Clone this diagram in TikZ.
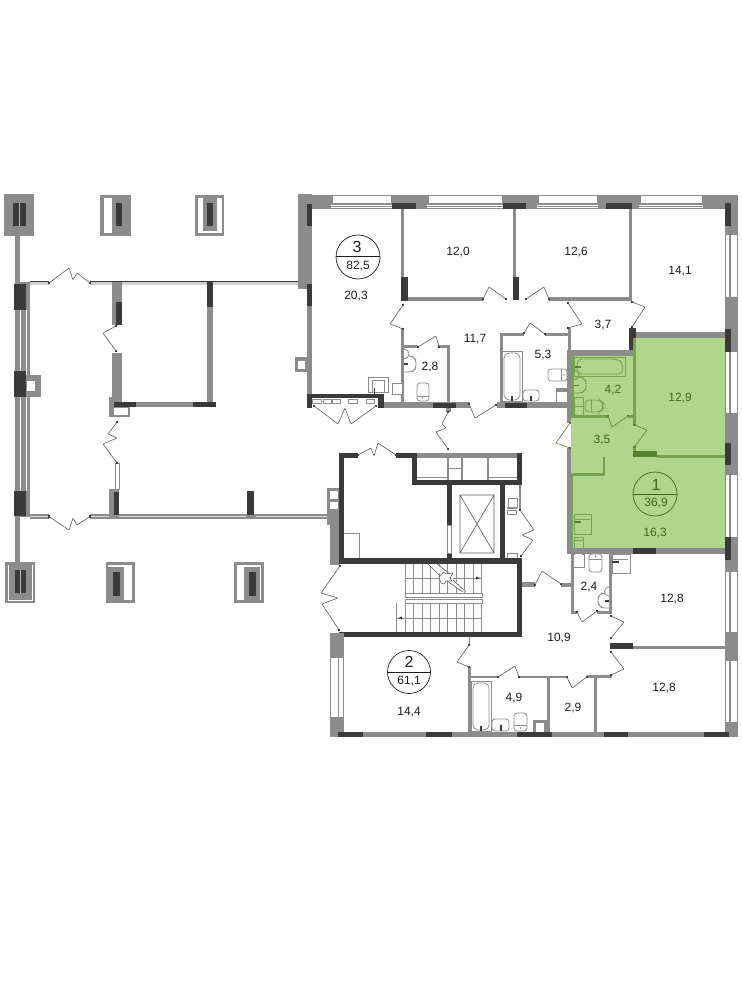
\documentclass[tikz,border=0pt]{standalone}
\usepackage{fontspec}
\setmainfont{Liberation Sans}
\definecolor{wallgray}{HTML}{8C8C8C}
\definecolor{piergray}{HTML}{3A3A3A}
\definecolor{doorgray}{HTML}{5A5A5A}
\definecolor{flat}{HTML}{AFD68B}
\definecolor{flatwall}{HTML}{76A44E}
\definecolor{flatpier}{HTML}{55822F}
\definecolor{flattext}{HTML}{3C6A12}
\definecolor{numtext}{HTML}{1C1C1C}
\tikzset{
	wl/.style={fill=wallgray},
	pr/.style={fill=piergray},
	door/.style={draw=doorgray,line width=0.6pt,rounded corners=0.8pt},
	hinge/.style={fill=piergray},
	fixt/.style={draw=wallgray,line width=0.8pt,fill=white},
	area/.style={font=\fontsize{12}{12}\selectfont,text=numtext,inner sep=0pt},
	flatno/.style={font=\fontsize{16}{16}\selectfont,text=numtext,inner sep=0pt},
	ring/.style={draw=numtext,line width=0.7pt}
}
\newcommand{\wl}[4]{\fill[wl] (#1,#2) rectangle (#3,#4);}
\newcommand{\pr}[4]{\fill[pr] (#1,#2) rectangle (#3,#4);}
\newcommand{\wh}[4]{\fill[white] (#1,#2) rectangle (#3,#4);}
\newcommand{\fx}[4]{\draw[fixt] (#1,#2) rectangle (#3,#4);}
\newcommand{\rfx}[4]{\draw[fixt,rounded corners=3pt] (#1,#2) rectangle (#3,#4);}
\newcommand{\vtub}[4]{\fx{#1}{#2}{#3}{#4}\draw[fixt,rounded corners=5pt] ({#1+2},{#4-1}) -- ({#1+2},{#2+2}) -- ({#3-2},{#2+2}) -- ({#3-2},{#4-1}) -- cycle;}
\begin{document}
\begin{tikzpicture}[x=1pt,y=-1pt]
	\useasboundingbox (0,0) rectangle (741,1000);
	% flat 1
	\fill[flat] (571,356) -- (636,356) -- (636,338) -- (725,338) -- (725,548) -- (571,548) -- cycle;

	% left block, columns above
	\wl{4}{194}{34}{236} \pr{13}{203}{26}{226} \fill[wallgray!60] (19.2,203) rectangle (20,226);
	\wl{100}{195}{131}{236} \wh{104}{198}{112}{233} \pr{116}{203}{122}{226}
	\wl{195}{195}{224}{236} \wh{198}{198}{222}{233} \wl{203}{198}{217}{231} \pr{207}{203}{213}{226}
	% left block, columns below
	\wl{5}{562}{35}{603} \draw[white,line width=0.5pt] (8,565) -- (8,600) -- (32,600) -- (32,565); \pr{15}{570}{26}{593} \fill[wallgray!60] (20,570) rectangle (21,593);
	\wl{106}{562}{135}{603} \wh{108}{565}{132}{600} \wl{108}{567}{124}{600} \pr{113}{572}{120}{596}
	\wl{234}{562}{264}{603} \wh{237}{565}{261}{600} \wl{244}{567}{260}{600} \pr{249}{572}{256}{596}
	% left block, outer walls
	\wl{15}{236}{20}{282} \wl{15}{282}{30}{517} \wl{15}{517}{20}{562}
	\fill[white] (20,310) rectangle (20.8,491); \fill[white] (25.6,310) rectangle (26.4,491);
	\pr{14}{284}{26}{310} \pr{14}{371}{26}{397} \pr{14}{491}{26}{516}
	\wl{26}{375}{41}{397} \wh{27}{381}{35}{391}
	\foreach \xa/\xb in {30/49,90/298}{
		\fill[wallgray!40] (\xa,282) rectangle (\xb,285);
		\fill[piergray] (\xa,281) rectangle (\xb,282);
	}
	\foreach \xa/\xb in {30/49,90/327}{
		\fill[wallgray] (\xa,514) rectangle (\xb,519);
		\fill[wallgray!30] (\xa,516) rectangle (\xb,517);
	}
	% left block, inner walls
	\wl{112}{282}{122}{325} \pr{116}{302}{122}{325} \wl{112}{353}{122}{402}
	\wl{207}{282}{213}{402} \pr{207}{282}{213}{307}
	\wl{114}{402}{216}{407} \pr{114}{402}{136}{407} \pr{193}{402}{216}{407}
	\wl{109}{397}{114}{417} \wl{114}{407}{130}{417} \wh{114}{408}{128}{415}
	\draw[wallgray,line width=0.7pt,fill=white] (115.5,463) rectangle (119,489);
	\wl{109}{489}{119}{519} \pr{114}{492}{119}{515}
	\pr{247}{491}{254}{515} \wl{246}{515}{256}{519}
	\wl{327}{488}{340}{525} \wh{330}{491}{338}{499} \wh{330}{502}{338}{509} \wl{330}{525}{340}{565}

	% flat 3, outer walls
	\wl{298}{194}{312}{289} \wl{298}{195}{738}{209} \wl{307}{289}{312}{394}
	\pr{307}{204}{312}{226} \pr{307}{284}{312}{306}
	\foreach \xa/\xb in {333/391,429/502,539/597,641/702}{
		\wh{\xa}{196}{\xb}{203}
		\wh{\xa-2}{204.6}{\xb+1}{208}
		\fill[wallgray] ({\xa-2},205.9) rectangle ({\xb+1},206.7);
	}
	\pr{392}{203}{416}{209} \pr{503}{203}{526}{209} \pr{606}{203}{632}{209}
	\wl{295}{357}{307}{372} \wh{298}{361}{305}{369}

	% right facade
	\wl{725}{195}{738}{737}
	\foreach \ya/\yb in {235/297,352/413,475/537,572/632,661/722}{
		\wh{726}{\ya}{738}{\yb}
		\fill[wallgray] (729.4,\ya) rectangle (730.6,\yb);
		\fill[wallgray] (736.5,\ya) rectangle (737.5,\yb);
	}
	\pr{725}{203}{731}{226} \pr{725}{329}{731}{352} \pr{725}{443}{731}{465} \pr{725}{537}{731}{560}

	% flat 3, partitions
	\wl{401}{209}{404}{299} \pr{401}{277}{408}{301} \wl{408}{297}{483}{301}
	\wl{513}{209}{516}{277} \pr{513}{277}{519}{300}
	\wl{549}{297}{632}{301} \wl{629}{209}{632}{301}
	\pr{629}{328}{636}{351} \wl{636}{332}{725}{338}
	\wl{568}{328}{571}{350} \wl{567}{350}{636}{356}
	\wl{401}{329}{404}{402}
	\wl{404}{345}{418}{348} \wl{439}{345}{450}{348} \wl{447}{345}{450}{402}
	\wl{500}{333}{503}{402} \wl{500}{333}{524}{335.5} \wl{545}{333}{570}{335.5}
	% flat 3, entrance wall
	\pr{307}{394}{384}{398} \pr{307}{398}{312}{408} \pr{378}{398}{384}{408}
	\foreach \xa/\xb in {312/321,323/331,332/340,348/357,366/374}{
		\draw[wallgray,line width=0.6pt,fill=white] (\xa,399) rectangle (\xb,403);
	}
	\wl{384}{402}{470}{408} \pr{433}{403}{456}{408} \wl{445.5}{408}{451}{412}
	\wl{497}{402}{568}{408} \pr{505}{403}{527}{408}
	% flat 3, fittings
	\fx{368}{377}{388}{392} \draw[fixt] (372,380) rectangle (384,392); \fill[piergray] (373.5,388) rectangle (375,394);
	\fx{392}{383}{402}{394} \wh{394}{385}{400}{392}
	\draw[fixt,rounded corners=3pt] (404,356) -- (412,356) -- (416,360) -- (416,368) -- (412,372) -- (404,372);
	\draw[fixt] (404,359) arc[start angle=90,end angle=-90,radius=5]; \fill[piergray] (404,363) rectangle (408,364.5);
	\rfx{417}{383}{429}{401} \draw[fixt] (417,396) -- (429,396); \fill[piergray] (422.5,398) circle (0.7);
	\vtub{502}{351}{522}{401} \fill[piergray] (511,396) rectangle (513,401);
	\rfx{523}{390}{539}{401} \fill[piergray] (530,396) rectangle (532,401);
	\rfx{548}{369}{567}{381} \draw[fixt] (561,369) -- (561,381); \fill[piergray] (564,375) circle (0.7);
	\fx{556}{388}{568}{402} \fill[wallgray] (556,388) rectangle (568,391.5); \wh{559}{393}{566}{401}

	% flat 1, walls and fittings
	\begin{scope}[fixt/.style={draw=flatwall,line width=0.9pt,fill=none}]
		\wl{567}{350}{571}{423} \wl{567}{448}{571}{554}
		\fill[flatwall] (571,356) rectangle (574,418);
		\fill[flatwall] (633,338) rectangle (636,425);
		\fill[flatwall] (574,415) rectangle (608,418);
		\fill[flatwall] (628,415) rectangle (636,418);
		\fill[flatpier] (633,451) rectangle (657,457);
		\fill[flatwall] (657,455) rectangle (725,458);
		\fill[flatwall] (603,457) rectangle (605,476);
		\fill[flatwall] (571,473) rectangle (605,476);
		\fill[flatwall] (571,476) rectangle (573,548);
		\fill[flatwall] (633,447) rectangle (636,451);
		\fx{574}{357}{625}{376} \draw[fixt,rounded corners=5pt] (577,359) -- (618,359) -- (623,364) -- (623,374) -- (577,374) -- cycle;
		\fill[flatpier] (575,366) rectangle (581,367.5);
		\draw[fixt,rounded corners=3pt] (574,377) -- (582,377) -- (586,381) -- (586,389) -- (582,393) -- (574,393);
		\draw[fixt] (574,380) arc[start angle=90,end angle=-90,radius=5]; \fill[flatpier] (574,384.5) rectangle (579,386);
		\fx{574}{397}{583}{406} \fx{574}{406}{583}{415}
		\draw[fixt,rounded corners=4pt] (585,400) -- (600,400) -- (603,403) -- (603,409) -- (600,412) -- (585,412) -- cycle; \draw[fixt] (591,400) -- (591,412);
		\fx{574}{514}{591}{534} \draw[fixt] (574,519) -- (590,519); \fill[flatpier] (574,521) rectangle (581,522.5);
		\fx{574}{537}{583}{548} \draw[fixt] (574,540) -- (583,540);
	\end{scope}
	\wl{567}{548}{725}{554} \pr{633}{548}{656}{554}

	% core
	\pr{339}{453}{344}{564} \pr{339}{453}{358}{458} \pr{396}{453}{417}{458} \pr{412}{453}{417}{485}
	\pr{412}{480}{522}{485} \pr{517}{453}{522}{485}
	\wl{417}{453}{517}{458}
	\foreach \xa/\xb in {447/448.5,461/462.5,487/489}{\wl{\xa}{458}{\xb}{480}}
	\draw[wallgray,line width=0.6pt] (447,468) -- (462,468) (417,477) -- (447,477) (488,477) -- (517,477);
	\pr{447}{485}{452}{525} \pr{447}{553}{452}{558} \pr{500}{485}{505}{560}
	\draw[wallgray,line width=0.6pt] (447.5,525) rectangle (451.5,553);
	\draw[doorgray,line width=0.6pt] (460,495) rectangle (494,553) (460,495) -- (494,553) (494,495) -- (460,553);
	\wl{519}{485}{521}{510} \wl{507}{507}{517}{509}
	\draw[wallgray,line width=1pt] (508,498) rectangle (517,507) (507,510) rectangle (516,514) (507,553) rectangle (517,558);
	\pr{339}{558}{522}{564} \pr{517}{558}{522}{637} \pr{339}{632}{522}{637}
	\draw[wallgray,line width=1pt] (344,533) -- (359,533) -- (359,558);
	% stairs
	\begin{scope}[wallgray,line width=0.6pt]
		\foreach \sx in {405,413.5,...,482.5}{
			\draw (\sx,564) -- (\sx,593);
			\draw (\sx,603) -- (\sx,632);
		}
		\draw (405,578) -- (482,578) (396,618) -- (482,618) (396,603) -- (396,632);
		\draw (405,593) rectangle (482,597) (405,599) rectangle (482,603);
		\fill[white] (428,564) -- (437,564) -- (467,592) -- (463,592) -- cycle;
		\draw[doorgray] (428,564) -- (441,577) (447,581) -- (463,592) (437,564) -- (450,574) (453,580) -- (466,592);
		\draw[doorgray,fill=white] (439,577) -- (444,572) -- (446,574) -- (453,573) -- (450,578) -- (452,581) -- (446,581) -- (444,584) -- (441,583) -- cycle;
	\end{scope}
	\fill[piergray] (476,576.5) -- (480,578) -- (476,579.5) -- cycle;
	\fill[piergray] (402,616.5) -- (398,618) -- (402,619.5) -- cycle;

	% flat 2 and lobby walls
	\wl{522}{582}{535}{587} \wl{561}{583}{574}{587} \wl{571}{554}{574}{612} \wl{571}{611}{577}{613.5}
	\wl{597}{611}{612}{613.5} \wl{609}{554}{612}{613.5}
	\pr{610}{643}{633}{649} \wl{633}{646}{725}{648.5}
	\wl{594}{675}{612}{678} \wl{594}{676}{597}{732}
	\wl{587}{675}{594}{678} \wl{519}{676}{567}{678} \wl{547}{676}{550}{732} \wl{471}{676}{498}{678}
	\wl{468}{667}{471}{732} \draw[wallgray,line width=1pt] (469.5,637) -- (469.5,645);
	\wl{330}{633}{344}{737} \wh{331}{658}{338}{717} \wh{339}{658}{343}{717}
	\wl{330}{732}{738}{737}
	\foreach \xa/\xb in {338/363,426/452,517/552,604/628,704/729}{\pr{\xa}{732}{\xb}{737}}
	% flat 2, fittings
	\vtub{471}{681}{491}{731} \fill[piergray] (480,726) rectangle (482,731);
	\rfx{492}{719}{509}{731} \fill[piergray] (499.5,725) rectangle (501.5,731);
	\rfx{514}{713}{527}{731} \draw[fixt] (514,725) -- (527,725); \fill[piergray] (520.5,728) circle (0.7);
	\wl{533}{720}{547}{732} \wh{536}{723}{544}{732}
	\fx{573}{554}{584}{567} \wh{575}{554}{582}{564}
	\rfx{589}{554}{602}{572} \draw[fixt] (589,559) -- (602,559); \fill[piergray] (595.5,556.5) circle (0.7);
	\fx{612}{554}{630}{573} \draw[fixt] (612,559) -- (628,559); \fill[piergray] (612,561) rectangle (619,562.5);
	\draw[fixt,rounded corners=3pt] (609,593) -- (602,593) -- (598,597) -- (598,604) -- (602,608) -- (609,608);
	\draw[fixt] (609,596) arc[start angle=90,end angle=270,radius=4.5]; \fill[piergray] (605,600) rectangle (609,601.5);

	% doors
	\foreach \hx/\hy in {49/283,90/283,116/326,116/351,117/422,117/463,49/516.5,90/516.5,340/566,339/630,
		483/299,506/299,526/299,549/299,632/302,632/327,568/303,568/328,403/305,403/329,418/347,439/347,
		469/404,496/405,524/333,545/334,448/412,448/449,358/455,396/455,520/510,521/556,535/585,561/584,
		577/612,597/611,611/616,611/638,611/652,611/675,567/677,587/677,469/645,469/667,498/677,519/677,
		314/406,376/406}{
		\fill[hinge] (\hx-1.2,\hy-1.2) rectangle (\hx+1.2,\hy+1.2);
	}
	\foreach \hx/\hy in {570/423,570/448,608/416,628/416,634.5/425,634.5/447}{
		\fill[flatpier] (\hx-1.2,\hy-1.2) rectangle (\hx+1.2,\hy+1.2);
	}
	\draw[door] (49,283) -- (69,268) -- (73,280) -- (77,273) -- (90,283);
	\draw[door] (49,516.5) -- (69,530) -- (73,518) -- (77,525) -- (90,516.5);
	\draw[door] (116,326) -- (103,333) -- (116,351);
	\draw[door] (117,422) -- (108,434) -- (117,438) -- (103,444) -- (117,463);
	\draw[door] (340,566) -- (321,593) -- (338,598) -- (322,604) -- (339,630);
	\draw[door] (483,299) -- (489,287) -- (506,299);
	\draw[door] (526,299) -- (544,287) -- (549,299);
	\draw[door] (632,302) -- (645,307) -- (632,327);
	\draw[door] (568,303) -- (582,324) -- (568,328);
	\draw[door] (403,305) -- (390,324) -- (403,329);
	\draw[door] (418,347) -- (436,336) -- (439,347);
	\draw[door] (469,404) -- (475,418) -- (496,405);
	\draw[door] (524,333) -- (530,323) -- (545,334);
	\draw[door] (314,406) -- (338,424) -- (345,408) -- (351,424) -- (376,406);
	\draw[door] (448,412) -- (442,424) -- (446,428) -- (436,432) -- (448,449);
	\draw[door] (358,455) -- (371,448) -- (374,456) -- (378,443) -- (396,455);
	\draw[door] (520,510) -- (534,530) -- (522,535) -- (533,540) -- (521,556);
	\draw[door] (535,585) -- (542,571) -- (561,584);
	\draw[door] (577,612) -- (582,622) -- (597,611);
	\draw[door] (611,616) -- (624,622) -- (611,638);
	\draw[door] (611,652) -- (624,669) -- (611,675);
	\draw[door] (587,677) -- (572,688) -- (567,677);
	\draw[door] (469,645) -- (457,662) -- (469,667);
	\draw[door] (498,677) -- (515,666) -- (519,677);
	\begin{scope}[door/.append style={draw=flatpier}]
		\draw[door] (570,423) -- (556,443) -- (570,448);
		\draw[door] (608,416) -- (612,427) -- (628,416);
		\draw[door] (634.5,425) -- (647,430) -- (634.5,447);
	\end{scope}

	% flat signs
	\draw[ring] (358,257) circle (22); \draw[ring] (336,256) -- (380,256);
	\node[flatno] (numthree) at (357,247) {3};
	\node[area] (sumthree) at (358,266) {82,5};
	\draw[ring] (409,672) circle (21.5); \draw[ring] (387.5,672) -- (430.5,672);
	\node[flatno] (numtwo) at (409,662) {2};
	\node[area] (sumtwo) at (409,681) {61,1};
	\draw[ring,draw=flattext] (655,494) circle (22); \draw[ring,draw=flattext] (633,494) -- (677,494);
	\node[flatno,text=flattext] (numone) at (656,485) {1};
	\node[area,text=flattext] (sumone) at (656,503) {36,9};

	% areas
	\foreach \nm/\ax/\ay/\txt in {a/356/296/{20,3}, b/458/252/{12,0}, c/576/252/{12,6}, d/680/271/{14,1}, e/475/339/{11,7},
		f/543/355/{5,3}, g/430/367/{2,8}, h/603/325/{3,7}, i/409/712/{14,4}, j/514/698/{4,9}, k/559/638/{10,9},
		l/589/587/{2,4}, m/573/708/{2,9}, n/672/599/{12,8}, o/664/688/{12,8}}{
		\node[area] (room\nm) at (\ax,\ay) {\txt};
	}
	\foreach \nm/\ax/\ay/\txt in {p/680/398/{12,9}, q/613/390/{4,2}, r/602/440/{3,5}, s/655/533/{16,3}}{
		\node[area,text=flattext] (room\nm) at (\ax,\ay) {\txt};
	}
\end{tikzpicture}
\end{document}
